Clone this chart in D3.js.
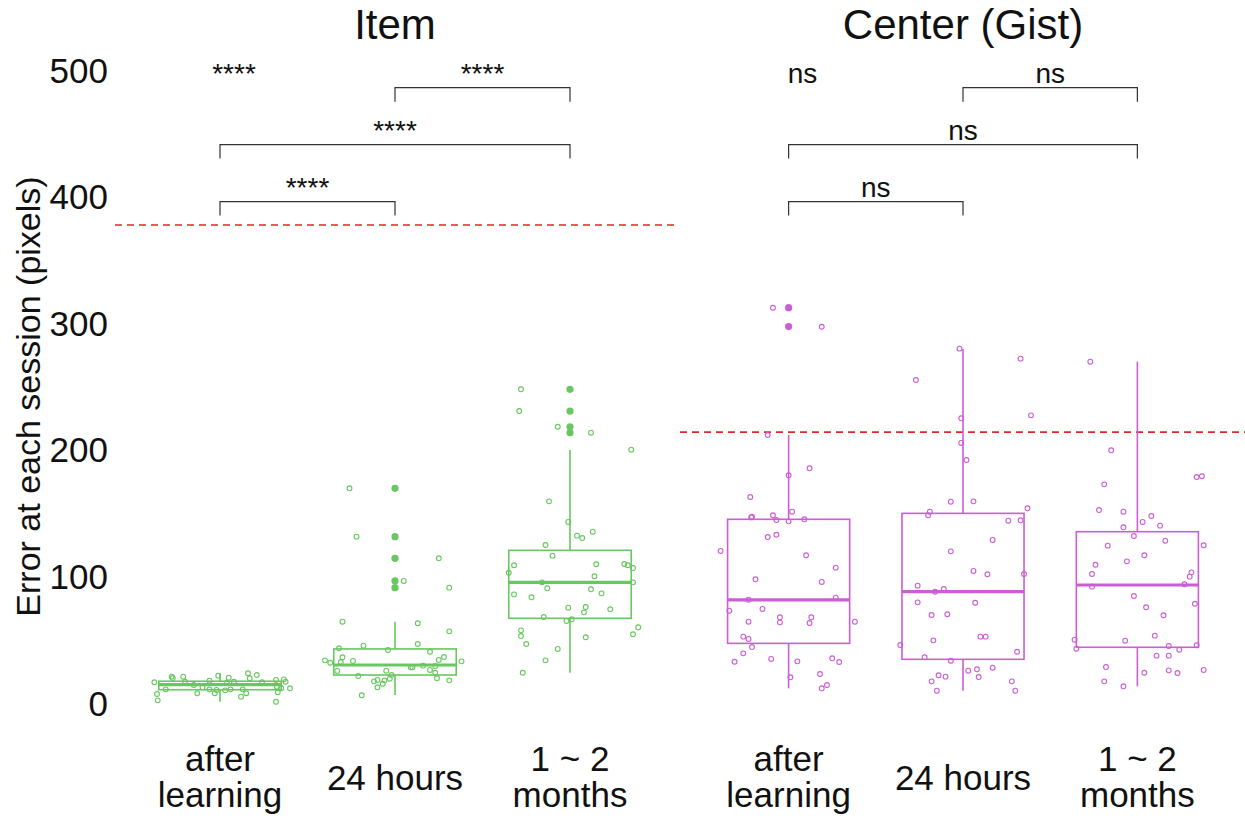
<!DOCTYPE html>
<html><head><meta charset="utf-8">
<script src="https://cdn.jsdelivr.net/npm/d3@7"></script>
<style>body{margin:0;background:#fff}svg{display:block}text{font-family:"Liberation Sans",Arial,sans-serif}</style>
</head><body><div id="chart"></div>
<script>
const panelTitles = ["Item", "Center (Gist)"];
const sessions = ["after learning", "24 hours", "1 ~ 2 months"];
const sessionLines = [["after", "learning"], ["24 hours"], ["1 ~ 2", "months"]];
const yTicks = [0, 100, 200, 300, 400, 500];
const chanceLevel = [377.6, 214];
// box stats: [lower whisker, q1, median, q3, upper whisker]
const itemBoxes = [[1.0, 10.5, 14.5, 17.2, 23.5], [6.3, 22.1, 30, 42.7, 64.2], [23.9, 66.9, 95.3, 120.6, 199.8]];
const centerBoxes = [[11.6, 47.1, 81.4, 145.1, 211.7], [9.7, 34.5, 87.9, 149.8, 279.9], [13.2, 44, 93.2, 135.3, 269.6]];
const itemOutliers = [[], [169.6, 131.4, 114.3, 96.4, 91.1], [247.8, 230.6, 218.2, 213.5]];
const centerOutliers = [[312.3, 297.3], [], []];
// jittered observations: [value, jitter]
const itemAfter = [[16.4,-0.375],[7.1,-0.36],[2.1,-0.356],[10.8,-0.31],[20.8,-0.276],[19.7,-0.27],[20.8,-0.21],[16.8,-0.2],[14.2,-0.15],[7.7,-0.13],[12.4,-0.10],[17.6,-0.06],[10.8,-0.06],[7.7,-0.03],[10.3,-0.02],[21.6,-0.01],[10.0,0.03],[16.0,0.04],[20.0,0.05],[10.8,0.06],[16.8,0.08],[5.0,0.12],[10.8,0.13],[7.7,0.15],[23.5,0.16],[19.5,0.17],[22.1,0.21],[16.4,0.24],[1.0,0.32],[18.2,0.32],[12.9,0.325],[8.5,0.33],[11.6,0.35],[18.7,0.365],[16.8,0.375],[11.6,0.40]];
const item24h = [[169.6,-0.26],[131.4,-0.22],[114.3,0.25],[96.4,0.05],[91.1,0.31],[64.2,-0.30],[63.0,0.13],[56.6,0.31],[43.2,-0.32],[45.3,-0.18],[41.9,-0.04],[46.6,0.13],[40.5,0.20],[33.7,-0.40],[31.8,-0.37],[32.4,-0.31],[36.1,-0.30],[33.2,-0.24],[34.0,0.25],[36.3,0.28],[32.9,0.38],[25.3,-0.33],[21.3,-0.21],[25.5,-0.05],[22.1,-0.02],[19.2,-0.03],[17.9,-0.06],[15.2,-0.07],[12.4,-0.10],[18.2,-0.10],[17.1,-0.12],[28.2,0.09],[28.2,0.10],[29.5,0.16],[29.2,0.23],[26.1,0.20],[23.9,0.23],[19.5,0.24],[17.9,0.31],[6.1,-0.19]];
const item2m = [[247.8,-0.28],[230.6,-0.29],[218.2,-0.07],[213.5,0.12],[200.1,0.35],[159.3,-0.12],[143.0,-0.01],[132.2,0.04],[130.3,0.07],[135.3,0.13],[124.8,-0.14],[116.4,-0.10],[108.8,-0.32],[102.9,-0.35],[109.6,0.15],[100.1,0.14],[109.8,0.31],[108.8,0.33],[106.6,0.36],[95.3,-0.16],[95.3,0.36],[90.6,-0.13],[89.8,0.12],[86.6,0.18],[85.8,-0.32],[83.5,-0.22],[75.3,-0.01],[75.8,0.09],[71.6,0.08],[74.0,0.23],[67.9,-0.15],[64.8,-0.02],[66.1,0.01],[57.4,-0.28],[52.9,-0.28],[59.8,0.39],[54.3,0.36],[51.9,0.09],[46.6,-0.25],[42.7,-0.07],[33.7,-0.14],[23.9,-0.27]];
const centerAfter = [[312.2,-0.09],[297.2,0.19],[211.7,-0.12],[185.4,0.12],[179.9,0.0],[162.7,-0.22],[151.1,0.02],[147.2,-0.21],[146.6,-0.215],[148.3,-0.09],[144.5,-0.07],[143.5,0.0],[145.1,0.09],[131.1,-0.12],[132.9,-0.07],[120.1,-0.39],[116.7,0.10],[106.9,0.27],[97.7,-0.19],[95.6,0.19],[83.2,0.27],[81.6,-0.23],[72.9,-0.34],[74.3,-0.15],[67.7,-0.05],[63.7,-0.05],[67.7,0.13],[63.2,0.12],[64.2,-0.23],[64.2,0.38],[52.4,-0.26],[50.6,-0.23],[44.2,-0.21],[39.2,-0.26],[32.6,-0.31],[34.8,-0.10],[32.9,0.05],[35.3,0.25],[32.4,0.29],[20.3,0.01],[22.9,0.18],[14.2,0.22],[11.6,0.19]];
const center24h = [[279.9,-0.02],[272.0,0.33],[255.1,-0.27],[224.9,-0.01],[227.2,0.39],[205.4,-0.01],[191.9,0.02],[159.0,-0.07],[159.3,0.06],[153.8,0.37],[151.1,-0.19],[148.3,-0.20],[144.0,0.26],[144.3,0.33],[128.8,0.17],[119.8,-0.07],[104.3,0.06],[101.7,0.14],[101.9,0.35],[92.7,-0.26],[90.0,-0.11],[87.9,-0.16],[79.5,-0.26],[79.2,0.07],[69.5,-0.18],[70.1,-0.09],[49.5,-0.17],[52.4,0.10],[52.4,0.13],[45.8,-0.36],[40.5,0.31],[36.1,-0.22],[33.4,-0.07],[25.5,0.03],[26.6,0.08],[27.9,0.17],[21.9,-0.14],[20.8,-0.10],[20.5,0.09],[17.1,-0.18],[17.1,0.28],[9.7,-0.15],[9.7,0.30]];
const center2m = [[269.6,-0.27],[199.6,-0.15],[172.7,-0.19],[178.5,0.34],[179.1,0.37],[152.4,-0.22],[151.1,-0.08],[147.7,0.08],[143.0,0.03],[140.1,0.13],[138.8,-0.08],[131.9,-0.02],[128.2,0.16],[124.6,0.38],[124.3,-0.17],[116.7,0.04],[111.9,-0.06],[109.2,-0.24],[101.9,-0.26],[103.2,0.31],[99.8,0.30],[91.9,-0.26],[93.8,0.27],[84.5,-0.02],[78.4,0.33],[75.6,0.05],[69.3,0.15],[53.2,0.10],[50.0,-0.36],[42.9,-0.35],[49.2,-0.07],[45.0,0.18],[45.6,0.34],[42.1,0.24],[37.4,0.11],[37.4,0.18],[28.4,-0.18],[23.9,0.04],[25.8,0.18],[23.7,0.23],[26.1,0.38],[17.1,-0.19],[13.2,-0.08]];
// significance comparisons: [from, to, bracket level]
const comparisons = [[0, 1, 396], [0, 2, 441], [1, 2, 486]];
const itemSig = ["****", "****", "****"];
const centerSig = ["ns", "ns", "ns"];
const itemTopSig = "****";
const centerTopSig = "ns";

const W = 1245, H = 818;
const svg = d3.select("#chart").append("svg").attr("width", W).attr("height", H);
svg.append("rect").attr("width", W).attr("height", H).attr("fill", "#fff");

const y = d3.scaleLinear().domain([0, 500]).range([703, 70]);

const panels = [
  {title: panelTitles[0], range: [115, 675], color: "#68c760", boxes: itemBoxes, outliers: itemOutliers, points: [itemAfter, item24h, item2m], sig: itemSig, top: itemTopSig, chance: chanceLevel[0], lineRange: [115, 677]},
  {title: panelTitles[1], range: [684, 1242], color: "#cc5ed4", boxes: centerBoxes, outliers: centerOutliers, points: [centerAfter, center24h, center2m], sig: centerSig, top: centerTopSig, chance: chanceLevel[1], lineRange: [680, 1245]}
];

// y tick labels
svg.append("g").selectAll("text").data(yTicks).join("text")
  .attr("x", 108).attr("y", d => y(d)).attr("dy", "0.36em")
  .attr("text-anchor", "end").attr("font-size", 35).attr("fill", "#111")
  .text(d => d);

svg.append("text")
  .attr("transform", `translate(40,${(y(0) + y(500)) / 2 + 10}) rotate(-90)`)
  .attr("text-anchor", "middle").attr("font-size", 34).attr("fill", "#111")
  .text("Error at each session (pixels)");

panels.forEach(p => {
  const x = d3.scalePoint().domain(sessions).range(p.range).padding(0.6);
  const step = x.step();
  const bw = step * 0.7;
  const g = svg.append("g");

  g.append("text").attr("x", x(sessions[1])).attr("y", 39)
    .attr("text-anchor", "middle").attr("font-size", 42).attr("fill", "#111").text(p.title);

  // chance line
  g.append("line").attr("x1", p.lineRange[0]).attr("x2", p.lineRange[1])
    .attr("y1", y(p.chance)).attr("y2", y(p.chance))
    .attr("stroke", "#e02828").attr("stroke-width", 1.6).attr("stroke-dasharray", "7,5");

  sessions.forEach((s, i) => {
    const cx = x(s);
    const [lo, q1, med, q3, hi] = p.boxes[i];
    const bg = g.append("g").attr("stroke", p.color).attr("fill", "none");
    bg.append("line").attr("x1", cx).attr("x2", cx).attr("y1", y(q3)).attr("y2", y(hi)).attr("stroke-width", 1.6);
    bg.append("line").attr("x1", cx).attr("x2", cx).attr("y1", y(q1)).attr("y2", y(lo)).attr("stroke-width", 1.6);
    bg.append("rect").attr("x", cx - bw / 2).attr("width", bw)
      .attr("y", y(q3)).attr("height", y(q1) - y(q3)).attr("stroke-width", 1.6);
    bg.append("line").attr("x1", cx - bw / 2).attr("x2", cx + bw / 2)
      .attr("y1", y(med)).attr("y2", y(med)).attr("stroke-width", 3.2);

    g.append("g").selectAll("circle").data(p.points[i]).join("circle")
      .attr("cx", d => cx + d[1] * step).attr("cy", d => y(d[0])).attr("r", 2.4)
      .attr("fill", "none").attr("stroke", p.color).attr("stroke-width", 1.1);

    g.append("g").selectAll("circle").data(p.outliers[i]).join("circle")
      .attr("cx", cx).attr("cy", d => y(d)).attr("r", 3.6).attr("fill", p.color);

    // x labels
    const lines = sessionLines[i];
    const baseY = lines.length === 1 ? 790 : 771;
    lines.forEach((t, k) => {
      g.append("text").attr("x", cx).attr("y", baseY + k * 36)
        .attr("text-anchor", "middle").attr("font-size", 35).attr("fill", "#111").text(t);
    });
  });

  // brackets
  const tip = 11;
  comparisons.forEach((c, k) => {
    const x1 = x(sessions[c[0]]), x2 = x(sessions[c[1]]), yy = y(c[2]);
    g.append("path")
      .attr("d", `M${x1},${y(c[2] - tip)}V${yy}H${x2}V${y(c[2] - tip)}`)
      .attr("fill", "none").attr("stroke", "#333").attr("stroke-width", 1.2);
    g.append("text").attr("x", (x1 + x2) / 2).attr("y", yy - 5)
      .attr("text-anchor", "middle").attr("font-size", 28).attr("fill", "#111").text(p.sig[k]);
  });
  g.append("text").attr("x", x(sessions[0]) + 0.08 * step).attr("y", y(486) - 5)
    .attr("text-anchor", "middle").attr("font-size", 28).attr("fill", "#111").text(p.top);
});
</script>
</body></html>
